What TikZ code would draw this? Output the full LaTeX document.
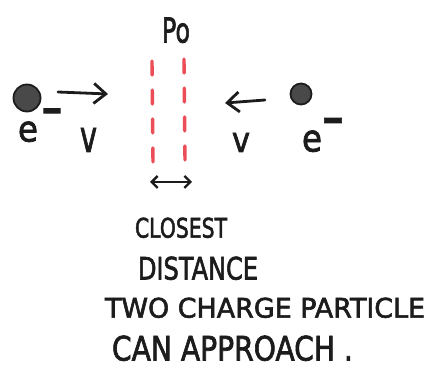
\documentclass[tikz,border=0pt]{standalone}
\usepackage{fontspec}
\setmainfont{DejaVu Sans}
\newfontfamily\hand{DejaVu Sans}[FakeBold=2.2]
\usetikzlibrary{arrows.meta}
\definecolor{ink}{RGB}{28,28,28}
\definecolor{marker}{RGB}{236,78,88}
\newcommand{\fitbox}[3]{\resizebox{#1pt}{#2pt}{\hand #3}}
\newcommand{\supminus}[1]{\scalebox{1}[2.0]{\resizebox{#1pt}{!}{\hand −}}}
\begin{document}
\begin{tikzpicture}[x=1pt,y=-1pt,
  lbl/.style={anchor=south west,inner sep=0pt,outer sep=0pt,text=ink},
  sup/.style={anchor=center,inner sep=0pt,outer sep=0pt,text=ink},
  particle/.style={circle,draw=ink,fill=ink!80,line width=1.8pt,inner sep=0pt},
  motion/.style={draw=ink,line width=2.8pt,line cap=round,-{Straight Barb[length=12pt,width=20pt,line width=2.8pt]}},
  span/.style={draw=ink,line width=2.3pt,line cap=round,{Straight Barb[length=6pt,width=12pt,line width=2.3pt]}-{Straight Barb[length=6pt,width=12pt,line width=2.3pt]}},
  gap/.style={draw=marker,line width=3.4pt,line cap=round,dash pattern=on 14pt off 15pt},
]
\useasboundingbox (0,0) rectangle (437,371);
\fill[white] (0,0) rectangle (437,371);

% particles
\node[particle,minimum size=27pt] (p1) at (27,98) {};
\node[particle,minimum size=21pt] (p2) at (301,94) {};

% motion arrows
\coordinate (a1s) at (58,92);
\coordinate (a1e) at (108,94);
\draw[motion] (a1s) -- (a1e);
\coordinate (a2s) at (265,100);
\coordinate (a2e) at (225,103);
\draw[motion] (a2s) -- (a2e);

% red dashed lines
\coordinate (l1) at (152,61);
\coordinate (l2) at (153,163);
\draw[gap] (l1) -- (l2);
\coordinate (r1) at (184,59);
\coordinate (r2) at (185,161);
\draw[gap] (r1) -- (r2);

% closest distance arrow
\coordinate (d1) at (150,182);
\coordinate (d2) at (192,182);
\draw[span] (d1) -- (d2);

% labels
\node[lbl] (po) at (162,43) {\fitbox{28}{25}{Po}};
\node[lbl] (e1) at (18,142) {\fitbox{20}{20}{e}};
\node[sup] (m1) at (52,118) {\supminus{22}};
\node[lbl] (v1) at (80,152) {\fitbox{17}{24}{v}};
\node[lbl] (v2) at (232,152) {\fitbox{18}{19}{v}};
\node[lbl] (e2) at (302,152) {\fitbox{20}{21}{e}};
\node[sup] (m2) at (333,128) {\supminus{23}};

\node[lbl] (t1) at (135,238) {\fitbox{92}{20}{CLOSEST}};
\node[lbl] (t2) at (138,280) {\fitbox{120}{23}{DISTANCE}};
\node[lbl] (t3) at (105,318) {\fitbox{320}{20}{TWO CHARGE PARTICLE}};
\node[lbl] (t4) at (112,361) {\fitbox{241}{25}{CAN APPROACH .}};
\end{tikzpicture}
\end{document}
